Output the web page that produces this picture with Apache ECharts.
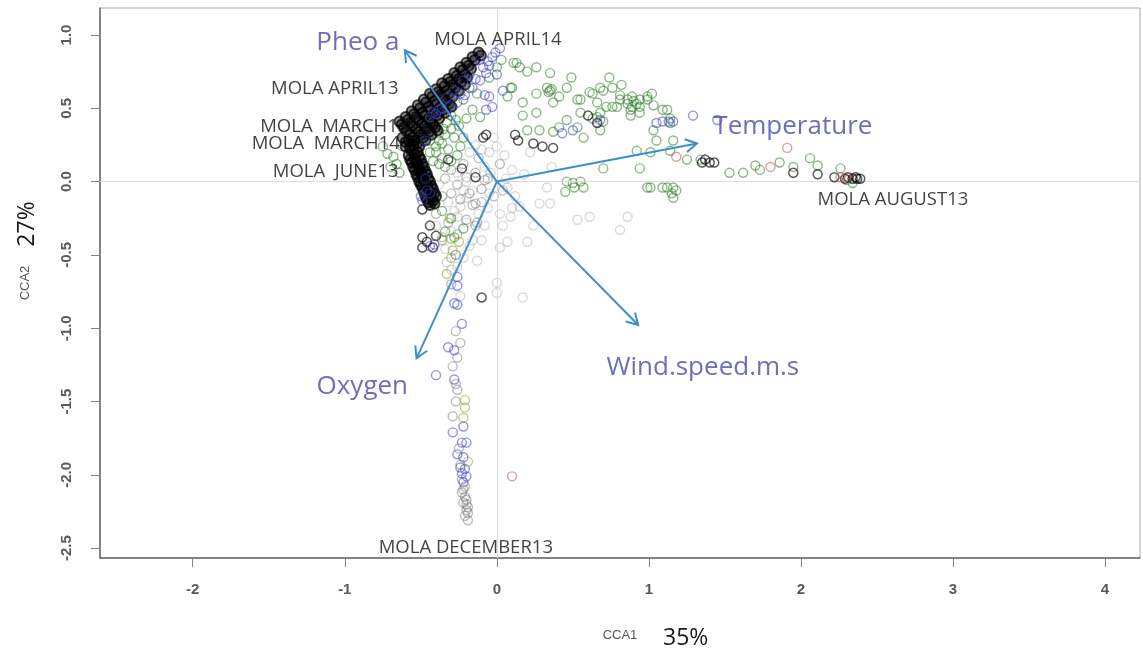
<!DOCTYPE html>
<html>
<head>
<meta charset="utf-8">
<title>CCA biplot</title>
<script src="https://cdn.jsdelivr.net/npm/echarts@6/dist/echarts.min.js"></script>
<style>
  html, body { margin: 0; padding: 0; background: #ffffff; }
  #chart { width: 1143px; height: 657px; }
</style>
</head>
<body>
<div id="chart"></div>
<script>
// Axis ticks
const xTicks = [-2, -1, 0, 1, 2, 3, 4];
const yTicks = [-2.5, -2, -1.5, -1, -0.5, 0, 0.5, 1];
const xAxisTitle = 'CCA1';
const yAxisTitle = 'CCA2';
const xShare = '35%';
const yShare = '27%';

// Environmental vectors (biplot arrows) and their label anchors
const envNames = ['Pheo a', 'Temperature', 'Wind.speed.m.s', 'Oxygen'];
const envTips = [[-0.605, 0.896], [1.316, 0.26], [0.93, -0.978], [-0.528, -1.205]];
const envLabelPos = [[-0.914, 0.951], [1.947, 0.375], [1.355, -1.268], [-0.885, -1.40]];

// Sampling-date labels
const siteNames = ['MOLA APRIL14', 'MOLA APRIL13', 'MOLA  MARCH13', 'MOLA  MARCH14', 'MOLA  JUNE13', 'MOLA AUGUST13', 'MOLA DECEMBER13'];
const sitePos = [[0.007, 0.97], [-1.066, 0.635], [-1.069, 0.374], [-1.125, 0.26], [-1.06, 0.067], [2.605, -0.126], [-0.204, -2.498]];

// Sample scores, grouped by point colour
const lightGreyPts = [
  [0.02,-0.22],[0.09,-0.24],[0.15,-0.17],[0.20,-0.41],[0.07,-0.41],[0.02,-0.45],[0.28,-0.15],[0.35,-0.15],
  [0.33,-0.04],[0.61,-0.24],[0.81,-0.33],[0.86,-0.24],[0.00,-0.69],[0.00,-0.76],[0.17,-0.79],[0.53,-0.26],
  [-0.16,-0.06],[-0.20,-0.11],[-0.24,-0.17],[-0.26,-0.24],[-0.20,-0.28],[-0.16,-0.40],[-0.22,-0.52],[-0.13,-0.54],
  [-0.05,-0.08],[0.07,-0.04],[-0.14,0.25],[-0.05,0.20],[0.05,0.18],[0.10,0.08],[0.18,0.05],[-0.02,0.30],
  [0.22,0.20],[0.36,0.10],[-0.30,-0.60],[-0.33,-0.55],[-0.26,-0.58],[0.12,-0.10],[0.24,-0.30],[-0.08,-0.30],
  [-0.38,-0.02],[-0.32,-0.14],[-0.28,-0.20],[-0.22,-0.06],[-0.12,-0.22],[-0.06,-0.18],[-0.04,0.06],[0.06,0.02],
  [-0.18,0.20],[-0.26,0.06],[-0.40,-0.30],[-0.34,-0.46],[-0.18,-0.44],[-0.10,-0.40],[0.04,-0.30],[-0.24,-0.78],
  [-0.20,0.00],[-0.08,0.10],[0.10,-0.18],[-0.10,0.22],[0.00,0.24],[-0.30,-0.34]
];
const greyPts = [
  [-0.14,0.06],[-0.20,0.03],[-0.26,-0.02],[-0.18,-0.08],[-0.10,-0.05],[-0.06,0.02],[-0.24,-0.12],[-0.16,-0.16],
  [-0.30,-0.08],[-0.34,0.02],[-0.36,-0.10],[-0.10,-0.14],[-0.02,-0.10],[0.04,-0.06],[-0.30,0.08],[-0.22,0.12],
  [-0.12,0.16],[0.02,0.12],[-0.40,-0.22],[-0.32,-0.28],[-0.26,-0.36],[-0.20,-0.26],[-0.14,-0.30],[-0.36,-0.40],
  [-0.14,-0.15],[-0.08,0.01],[-0.13,-0.28],[-0.30,-0.70],
  [-0.26,-1.20],[-0.29,-1.26],[-0.26,-1.42],[-0.29,-1.60],[-0.23,-2.12],[-0.21,-2.15],[-0.20,-2.17],[-0.22,-2.19],
  [-0.19,-2.22],[-0.19,-2.26],[-0.19,-2.31],[-0.21,-2.08],[-0.24,-1.93],[-0.27,-1.50],[-0.24,-1.10],[-0.27,-1.02],
  [-0.21,-2.28],[-0.20,-2.24],[-0.22,-2.10],[-0.20,-2.20],[-0.23,-2.03],[-0.25,-1.82],[-0.27,-1.38]
];
const greenPts = [
  [0.15,0.78],[0.20,0.75],[0.33,0.64],[0.35,0.62],[0.10,0.64],[0.07,0.58],[0.17,0.54],[0.26,0.60],[0.37,0.54],
  [0.41,0.58],[0.49,0.71],[0.46,0.64],[0.55,0.56],[0.61,0.61],[0.68,0.64],[0.74,0.71],[0.76,0.64],[0.81,0.59],
  [0.86,0.56],[0.89,0.51],[0.94,0.56],[0.99,0.58],[1.03,0.52],[0.88,0.49],[0.76,0.51],[0.66,0.54],[0.55,0.47],
  [0.53,0.37],[0.41,0.37],[0.37,0.34],[0.28,0.35],[0.20,0.35],[0.26,0.47],[0.17,0.45],[0.13,0.81],[0.03,0.83],
  [0.00,0.78],[-0.05,0.71],[1.09,0.49],[1.14,0.43],[0.68,0.47],[0.63,0.43],[0.11,0.81],[0.26,0.78],[0.35,0.74],
  [0.09,0.64],[0.63,0.60],[0.70,0.62],[0.82,0.66],[0.81,0.56],[0.86,0.53],[0.89,0.58],[0.94,0.51],[0.99,0.56],
  [1.02,0.60],[0.94,0.47],[0.88,0.45],[0.79,0.51],[0.72,0.51],[0.66,0.44],[0.70,0.41],[0.68,0.35],[1.12,0.49],
  [1.14,0.40],[1.03,0.35],[0.53,0.56],[0.46,0.42],[0.57,0.30],[0.92,0.21],[1.05,0.28],[1.01,0.20],[1.16,0.28],
  [1.14,0.21],[1.25,0.15],[1.34,0.15],[1.53,0.06],[1.62,0.06],[1.70,0.11],[1.73,0.08],[1.86,0.13],[1.95,0.10],
  [2.06,0.16],[2.11,0.11],[2.26,0.09],[2.34,-0.01],[2.30,0.01],[0.50,-0.01],[0.57,-0.04],[0.99,-0.04],[1.12,-0.04],
  [1.18,-0.06],[0.94,0.09],[0.70,0.09],[0.45,-0.07],[0.51,-0.04],[0.55,0.00],[0.46,0.00],[1.01,-0.04],[1.09,-0.04],
  [1.15,-0.08],[1.16,-0.04],[1.16,-0.11],[0.36,0.63],[0.34,0.61],[0.90,0.55],[0.92,0.53],
  [-0.18,0.64],[-0.13,0.60],[-0.22,0.56],[-0.16,0.49],[-0.11,0.44],[-0.20,0.43],[-0.29,0.51],[-0.33,0.40],
  [-0.38,0.33],[-0.44,0.28],[-0.51,0.24],[-0.55,0.28],[-0.62,0.24],[-0.68,0.17],[-0.72,0.19],[-0.75,0.24],
  [-0.30,0.45],[-0.27,0.42],[-0.25,0.38],[-0.30,0.36],[-0.34,0.32],[-0.28,0.30],[-0.36,0.26],[-0.32,0.22],
  [-0.40,0.20],[-0.36,0.16],[-0.42,0.14],[-0.30,0.14],[-0.26,0.18],[-0.24,0.24],[-0.22,0.30],[-0.66,0.12],
  [-0.70,0.10],[-0.64,0.06],[-0.36,-0.20],[-0.30,-0.25],[-0.34,-0.34],[-0.28,-0.38],[-0.22,-0.32],
  [-0.38,0.28],[-0.35,0.36],[-0.40,0.24],[-0.44,0.20],[-0.38,0.12],[-0.34,0.10]
];
// Heavily overplotted spring samples (solid-looking black wedge)
const blackDensePts = [
  [-0.64,0.41],[-0.60,0.44],[-0.56,0.48],[-0.52,0.52],[-0.48,0.56],[-0.44,0.60],[-0.40,0.63],[-0.36,0.67],
  [-0.32,0.70],[-0.28,0.74],[-0.24,0.78],[-0.20,0.81],[-0.16,0.85],[-0.12,0.88],
  [-0.625,0.39],[-0.585,0.42],[-0.545,0.46],[-0.505,0.50],[-0.465,0.54],[-0.425,0.58],[-0.385,0.61],[-0.345,0.65],
  [-0.305,0.68],[-0.265,0.72],[-0.225,0.76],[-0.185,0.79],[-0.145,0.83],[-0.105,0.86],
  [-0.61,0.37],[-0.57,0.40],[-0.53,0.44],[-0.49,0.47],[-0.45,0.51],[-0.41,0.55],[-0.37,0.59],[-0.33,0.62],
  [-0.29,0.66],[-0.25,0.70],[-0.21,0.73],[-0.17,0.77],
  [-0.595,0.345],[-0.555,0.38],[-0.515,0.42],[-0.475,0.45],[-0.435,0.49],[-0.395,0.53],[-0.355,0.57],[-0.315,0.60],
  [-0.275,0.64],[-0.235,0.68],[-0.195,0.71],
  [-0.57,0.32],[-0.53,0.36],[-0.49,0.40],[-0.45,0.43],[-0.41,0.47],[-0.37,0.51],[-0.33,0.55],[-0.29,0.58],
  [-0.25,0.62],[-0.21,0.66],
  [-0.555,0.30],[-0.515,0.34],[-0.475,0.38],[-0.435,0.41],[-0.395,0.45],[-0.355,0.49],[-0.315,0.53],
  [-0.54,0.28],[-0.50,0.32],[-0.46,0.36],[-0.42,0.39],[-0.38,0.43],[-0.34,0.47],[-0.30,0.51],
  [-0.525,0.26],[-0.485,0.30],[-0.445,0.34],[-0.405,0.37],
  [-0.51,0.24],[-0.47,0.28],[-0.43,0.32],[-0.39,0.35],
  [-0.62,0.30],[-0.58,0.28],[-0.55,0.25],[-0.60,0.24],[-0.56,0.21],[-0.52,0.20],[-0.58,0.18],[-0.54,0.16],
  [-0.50,0.15],[-0.56,0.13],[-0.52,0.11],[-0.48,0.10],[-0.54,0.08],[-0.50,0.06],[-0.46,0.05],[-0.52,0.03],
  [-0.48,0.01],[-0.44,0.00],[-0.50,-0.02],[-0.46,-0.04],[-0.42,-0.05],[-0.48,-0.07],[-0.44,-0.09],[-0.40,-0.10],
  [-0.46,-0.12],[-0.42,-0.13],[-0.44,-0.16],
  [-0.60,0.27],[-0.57,0.23],[-0.54,0.19],[-0.51,0.17],[-0.57,0.15],[-0.53,0.13],[-0.49,0.12],[-0.55,0.10],
  [-0.51,0.08],[-0.47,0.07],[-0.53,0.05],[-0.49,0.04],[-0.45,0.02],[-0.51,0.00],[-0.47,-0.01],[-0.43,-0.03],
  [-0.49,-0.04],[-0.45,-0.06],[-0.41,-0.08],[-0.47,-0.10],[-0.43,-0.11],[-0.45,-0.14],[-0.41,-0.15]
];
const blackPts = [
  [-0.09,0.30],[-0.07,0.32],[0.12,0.32],[0.14,0.28],[0.24,0.26],[0.30,0.24],[0.37,0.23],[0.60,0.45],[0.66,0.40],
  [-0.23,0.09],[-0.14,0.03],[-0.32,0.15],
  [1.35,0.13],[1.37,0.15],[1.40,0.13],[1.43,0.13],
  [1.95,0.06],[2.11,0.05],[2.22,0.03],[2.29,0.02],[2.31,0.03],[2.34,0.02],[2.36,0.03],[2.37,0.02],[2.39,0.02],
  [-0.49,-0.19],[-0.44,-0.30],[-0.49,-0.38],[-0.46,-0.41],[-0.42,-0.45],[-0.49,-0.45],[-0.40,-0.37],
  [-0.10,-0.79]
];
const bluePts = [
  [0.02,0.91],[-0.03,0.85],[-0.07,0.74],[-0.11,0.69],[-0.16,0.64],[-0.21,0.59],[-0.26,0.54],[-0.31,0.51],
  [-0.38,0.49],[-0.42,0.47],[-0.44,0.44],[-0.05,0.79],[0.00,0.73],[-0.08,0.59],[-0.05,0.58],[-0.07,0.49],
  [-0.03,0.51],[-0.09,0.78],[-0.11,0.83],[-0.18,0.73],[-0.22,0.69],[-0.28,0.62],[-0.33,0.57],[0.04,0.62],
  [-0.01,0.88],[-0.06,0.82],[-0.14,0.70],[-0.24,0.60],[-0.36,0.50],[-0.40,0.46],
  [-0.46,-0.06],[-0.49,-0.13],[-0.50,-0.10],[-0.44,-0.08],[-0.47,0.02],[-0.47,0.28],[-0.41,-0.43],[-0.44,-0.44],
  [1.29,0.45],[1.16,0.41],[1.09,0.41],[1.05,0.40],[0.50,0.35],[1.45,0.42],[0.43,0.33],[1.13,0.41],[0.68,0.42],
  [-0.26,-0.84],[-0.23,-0.97],[-0.32,-1.13],[-0.28,-1.15],[-0.28,-1.35],[-0.40,-1.32],[-0.22,-1.67],[-0.29,-1.71],
  [-0.23,-1.78],[-0.20,-1.78],[-0.26,-1.86],[-0.22,-1.88],[-0.23,-1.99],[-0.20,-2.01],[-0.22,-2.05],[-0.26,-0.71],
  [-0.26,-0.65],[-0.28,-0.83],[-0.27,-0.50],[-0.24,-1.95],[-0.21,-1.96]
];
const olivePts = [
  [-0.30,-0.52],[-0.29,-0.47],[-0.33,-0.63],[-0.30,-0.39],[-0.25,-0.41],[-0.31,-0.25],[-0.36,-0.38],
  [-0.21,-1.49],[-0.21,-1.54],[-0.19,-1.91],[-0.22,-1.61]
];
const redPts = [
  [0.10,-2.01],[1.91,0.23],[1.80,0.10],[1.18,0.17],[2.26,0.03],[2.30,0.03]
];

const chart = echarts.init(document.getElementById('chart'), null, { renderer: 'canvas' });

function pointSeries(name, data, stroke, z, size, width, fill) {
  return {
    type: 'scatter',
    name: name,
    data: data,
    symbol: 'circle',
    symbolSize: size || 9,
    z: z,
    silent: true,
    itemStyle: { color: fill || 'rgba(0,0,0,0)', borderColor: stroke, borderWidth: width || 1.4 }
  };
}

const arrowColor = '#3f8fc8';
const labelFont = '"Open Sans", "Noto Sans", sans-serif';

const option = {
  animation: false,
  backgroundColor: '#ffffff',
  grid: {
    left: 100, right: 3, top: 8, bottom: 99,
    show: true, borderColor: '#a8a8a8', borderWidth: 1, backgroundColor: 'transparent'
  },
  xAxis: {
    type: 'value',
    min: -2.61, max: 4.23,
    name: xAxisTitle,
    nameLocation: 'middle',
    nameGap: 71,
    nameTextStyle: { fontFamily: 'Liberation Sans', fontSize: 13, color: '#555' },
    axisLine: { onZero: false, lineStyle: { color: '#6e6666', width: 1.5 } },
    axisTick: { show: true, length: 9, lineStyle: { color: '#8a8080' }, customValues: xTicks },
    axisLabel: {
      customValues: xTicks, margin: 24,
      fontFamily: 'Liberation Sans', fontSize: 15, color: '#5a5a5a', fontWeight: 'bold'
    },
    splitLine: { show: false }
  },
  yAxis: {
    type: 'value',
    min: -2.567, max: 1.184,
    name: yAxisTitle,
    nameLocation: 'middle',
    nameGap: 68,
    nameRotate: 90,
    nameTextStyle: { fontFamily: 'Liberation Sans', fontSize: 13, color: '#555' },
    axisLine: { onZero: false, lineStyle: { color: '#6e6666', width: 1.5 } },
    axisTick: { show: true, length: 9, lineStyle: { color: '#8a8080' }, customValues: yTicks },
    axisLabel: {
      customValues: yTicks, margin: 26, rotate: 90,
      formatter: v => v.toFixed(1),
      fontFamily: 'Liberation Sans', fontSize: 15, color: '#5a5a5a', fontWeight: 'bold'
    },
    splitLine: { show: false }
  },
  graphic: [
    { type: 'text', left: 663, top: 627, style: { text: xShare, font: '23px "Open Sans"', fill: '#1a1a1a' } },
    { type: 'text', x: 27, y: 224, rotation: Math.PI / 2,
      style: { text: yShare, font: '23px "Open Sans"', fill: '#1a1a1a', align: 'center', verticalAlign: 'middle' } }
  ],
  series: [
    Object.assign(pointSeries('light grey', lightGreyPts, 'rgba(150,150,150,0.45)', 2), {
      markLine: {
        silent: true, symbol: 'none', label: { show: false },
        lineStyle: { color: '#dddddd', width: 1, type: 'solid' },
        data: [{ xAxis: 0 }, { yAxis: 0 }]
      }
    }),
    pointSeries('grey', greyPts, 'rgba(105,105,105,0.55)', 3),
    pointSeries('green', greenPts, 'rgba(35,120,25,0.65)', 4),
    pointSeries('black dense', blackDensePts, 'rgba(0,0,0,0.9)', 5, 10, 2, 'rgba(0,0,0,0.55)'),
    pointSeries('black', blackPts, 'rgba(0,0,0,0.80)', 5, 9, 1.5),
    pointSeries('blue', bluePts, 'rgba(65,65,205,0.70)', 6),
    pointSeries('olive', olivePts, 'rgba(140,165,40,0.70)', 6),
    pointSeries('red', redPts, 'rgba(190,80,90,0.70)', 6),
    {
      type: 'custom',
      name: 'vectors',
      z: 8,
      silent: true,
      data: envTips,
      renderItem: function (params, api) {
        const o = api.coord([0, 0]);
        const t = api.coord([api.value(0), api.value(1)]);
        const ang = Math.atan2(t[1] - o[1], t[0] - o[0]);
        const L = 13, a = Math.PI / 6;
        const p1 = [t[0] - L * Math.cos(ang - a), t[1] - L * Math.sin(ang - a)];
        const p2 = [t[0] - L * Math.cos(ang + a), t[1] - L * Math.sin(ang + a)];
        return {
          type: 'group',
          children: [
            { type: 'line', shape: { x1: o[0], y1: o[1], x2: t[0], y2: t[1] },
              style: { stroke: arrowColor, lineWidth: 2 } },
            { type: 'polyline', shape: { points: [p1, t, p2] },
              style: { stroke: arrowColor, lineWidth: 2, fill: null } }
          ]
        };
      }
    },
    {
      type: 'scatter',
      name: 'vector labels',
      z: 9,
      silent: true,
      symbolSize: 0,
      data: envNames.map((n, i) => ({ name: n, value: envLabelPos[i] })),
      label: {
        show: true, position: 'inside', formatter: '{b}',
        fontFamily: labelFont, fontSize: 26, color: '#4a4aa6', align: 'center', verticalAlign: 'middle'
      }
    },
    {
      type: 'scatter',
      name: 'site labels',
      z: 9,
      silent: true,
      symbolSize: 0,
      data: siteNames.map((n, i) => ({ name: n, value: sitePos[i] })),
      label: {
        show: true, position: 'inside', formatter: '{b}',
        fontFamily: labelFont, fontSize: 18.5, color: '#111', align: 'center', verticalAlign: 'middle'
      }
    }
  ]
};

chart.setOption(option);
</script>
</body>
</html>
